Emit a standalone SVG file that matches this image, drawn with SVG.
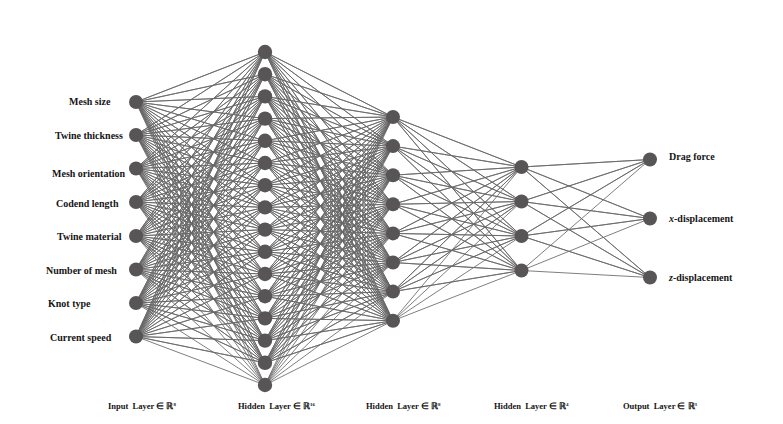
<svg xmlns="http://www.w3.org/2000/svg" width="783" height="424" viewBox="0 0 783 424">
<style>
.c{fill:none;stroke:#686868;stroke-width:0.85;stroke-linejoin:round}
.n{fill:#585556}
.t{font-family:"Liberation Serif","Times New Roman",serif;font-weight:bold;font-size:10px;fill:#151515}
.b{font-family:"Liberation Serif","Times New Roman",serif;font-weight:bold;font-size:8.5px;fill:#151515}
.s{font-size:5px}
</style>
<rect width="783" height="424" fill="#ffffff"/>
<g id="connectors" class="c">
<path d="M136,102L265,52 136,102 265,74.2 136,102 265,96.4 136,102 265,118.6 136,102 265,140.8 136,102 265,163 136,102 265,185.2 136,102 265,207.4 136,102 265,229.6 136,102 265,251.8 136,102 265,274 136,102 265,296.2 136,102 265,318.4 136,102 265,340.6 136,102 265,362.8 136,102 265,385"/>
<path d="M136,135L265,52 136,135 265,74.2 136,135 265,96.4 136,135 265,118.6 136,135 265,140.8 136,135 265,163 136,135 265,185.2 136,135 265,207.4 136,135 265,229.6 136,135 265,251.8 136,135 265,274 136,135 265,296.2 136,135 265,318.4 136,135 265,340.6 136,135 265,362.8 136,135 265,385"/>
<path d="M136,168.5L265,52 136,168.5 265,74.2 136,168.5 265,96.4 136,168.5 265,118.6 136,168.5 265,140.8 136,168.5 265,163 136,168.5 265,185.2 136,168.5 265,207.4 136,168.5 265,229.6 136,168.5 265,251.8 136,168.5 265,274 136,168.5 265,296.2 136,168.5 265,318.4 136,168.5 265,340.6 136,168.5 265,362.8 136,168.5 265,385"/>
<path d="M136,202L265,52 136,202 265,74.2 136,202 265,96.4 136,202 265,118.6 136,202 265,140.8 136,202 265,163 136,202 265,185.2 136,202 265,207.4 136,202 265,229.6 136,202 265,251.8 136,202 265,274 136,202 265,296.2 136,202 265,318.4 136,202 265,340.6 136,202 265,362.8 136,202 265,385"/>
<path d="M136,236L265,52 136,236 265,74.2 136,236 265,96.4 136,236 265,118.6 136,236 265,140.8 136,236 265,163 136,236 265,185.2 136,236 265,207.4 136,236 265,229.6 136,236 265,251.8 136,236 265,274 136,236 265,296.2 136,236 265,318.4 136,236 265,340.6 136,236 265,362.8 136,236 265,385"/>
<path d="M136,269.5L265,52 136,269.5 265,74.2 136,269.5 265,96.4 136,269.5 265,118.6 136,269.5 265,140.8 136,269.5 265,163 136,269.5 265,185.2 136,269.5 265,207.4 136,269.5 265,229.6 136,269.5 265,251.8 136,269.5 265,274 136,269.5 265,296.2 136,269.5 265,318.4 136,269.5 265,340.6 136,269.5 265,362.8 136,269.5 265,385"/>
<path d="M136,303L265,52 136,303 265,74.2 136,303 265,96.4 136,303 265,118.6 136,303 265,140.8 136,303 265,163 136,303 265,185.2 136,303 265,207.4 136,303 265,229.6 136,303 265,251.8 136,303 265,274 136,303 265,296.2 136,303 265,318.4 136,303 265,340.6 136,303 265,362.8 136,303 265,385"/>
<path d="M136,336.5L265,52 136,336.5 265,74.2 136,336.5 265,96.4 136,336.5 265,118.6 136,336.5 265,140.8 136,336.5 265,163 136,336.5 265,185.2 136,336.5 265,207.4 136,336.5 265,229.6 136,336.5 265,251.8 136,336.5 265,274 136,336.5 265,296.2 136,336.5 265,318.4 136,336.5 265,340.6 136,336.5 265,362.8 136,336.5 265,385"/>
<path d="M393,117L265,52 393,117 265,74.2 393,117 265,96.4 393,117 265,118.6 393,117 265,140.8 393,117 265,163 393,117 265,185.2 393,117 265,207.4 393,117 265,229.6 393,117 265,251.8 393,117 265,274 393,117 265,296.2 393,117 265,318.4 393,117 265,340.6 393,117 265,362.8 393,117 265,385"/>
<path d="M393,146.1L265,52 393,146.1 265,74.2 393,146.1 265,96.4 393,146.1 265,118.6 393,146.1 265,140.8 393,146.1 265,163 393,146.1 265,185.2 393,146.1 265,207.4 393,146.1 265,229.6 393,146.1 265,251.8 393,146.1 265,274 393,146.1 265,296.2 393,146.1 265,318.4 393,146.1 265,340.6 393,146.1 265,362.8 393,146.1 265,385"/>
<path d="M393,175.2L265,52 393,175.2 265,74.2 393,175.2 265,96.4 393,175.2 265,118.6 393,175.2 265,140.8 393,175.2 265,163 393,175.2 265,185.2 393,175.2 265,207.4 393,175.2 265,229.6 393,175.2 265,251.8 393,175.2 265,274 393,175.2 265,296.2 393,175.2 265,318.4 393,175.2 265,340.6 393,175.2 265,362.8 393,175.2 265,385"/>
<path d="M393,204.3L265,52 393,204.3 265,74.2 393,204.3 265,96.4 393,204.3 265,118.6 393,204.3 265,140.8 393,204.3 265,163 393,204.3 265,185.2 393,204.3 265,207.4 393,204.3 265,229.6 393,204.3 265,251.8 393,204.3 265,274 393,204.3 265,296.2 393,204.3 265,318.4 393,204.3 265,340.6 393,204.3 265,362.8 393,204.3 265,385"/>
<path d="M393,233.4L265,52 393,233.4 265,74.2 393,233.4 265,96.4 393,233.4 265,118.6 393,233.4 265,140.8 393,233.4 265,163 393,233.4 265,185.2 393,233.4 265,207.4 393,233.4 265,229.6 393,233.4 265,251.8 393,233.4 265,274 393,233.4 265,296.2 393,233.4 265,318.4 393,233.4 265,340.6 393,233.4 265,362.8 393,233.4 265,385"/>
<path d="M393,262.5L265,52 393,262.5 265,74.2 393,262.5 265,96.4 393,262.5 265,118.6 393,262.5 265,140.8 393,262.5 265,163 393,262.5 265,185.2 393,262.5 265,207.4 393,262.5 265,229.6 393,262.5 265,251.8 393,262.5 265,274 393,262.5 265,296.2 393,262.5 265,318.4 393,262.5 265,340.6 393,262.5 265,362.8 393,262.5 265,385"/>
<path d="M393,291.6L265,52 393,291.6 265,74.2 393,291.6 265,96.4 393,291.6 265,118.6 393,291.6 265,140.8 393,291.6 265,163 393,291.6 265,185.2 393,291.6 265,207.4 393,291.6 265,229.6 393,291.6 265,251.8 393,291.6 265,274 393,291.6 265,296.2 393,291.6 265,318.4 393,291.6 265,340.6 393,291.6 265,362.8 393,291.6 265,385"/>
<path d="M393,320.7L265,52 393,320.7 265,74.2 393,320.7 265,96.4 393,320.7 265,118.6 393,320.7 265,140.8 393,320.7 265,163 393,320.7 265,185.2 393,320.7 265,207.4 393,320.7 265,229.6 393,320.7 265,251.8 393,320.7 265,274 393,320.7 265,296.2 393,320.7 265,318.4 393,320.7 265,340.6 393,320.7 265,362.8 393,320.7 265,385"/>
<path d="M521.5,167L393,117 521.5,167 393,146.1 521.5,167 393,175.2 521.5,167 393,204.3 521.5,167 393,233.4 521.5,167 393,262.5 521.5,167 393,291.6 521.5,167 393,320.7"/>
<path d="M521.5,201.5L393,117 521.5,201.5 393,146.1 521.5,201.5 393,175.2 521.5,201.5 393,204.3 521.5,201.5 393,233.4 521.5,201.5 393,262.5 521.5,201.5 393,291.6 521.5,201.5 393,320.7"/>
<path d="M521.5,236L393,117 521.5,236 393,146.1 521.5,236 393,175.2 521.5,236 393,204.3 521.5,236 393,233.4 521.5,236 393,262.5 521.5,236 393,291.6 521.5,236 393,320.7"/>
<path d="M521.5,270.5L393,117 521.5,270.5 393,146.1 521.5,270.5 393,175.2 521.5,270.5 393,204.3 521.5,270.5 393,233.4 521.5,270.5 393,262.5 521.5,270.5 393,291.6 521.5,270.5 393,320.7"/>
<path d="M650,159.5L521.5,167 650,159.5 521.5,201.5 650,159.5 521.5,236 650,159.5 521.5,270.5"/>
<path d="M650,218.5L521.5,167 650,218.5 521.5,201.5 650,218.5 521.5,236 650,218.5 521.5,270.5"/>
<path d="M650,277.5L521.5,167 650,277.5 521.5,201.5 650,277.5 521.5,236 650,277.5 521.5,270.5"/>
</g>
<g id="input-layer">
<g id="in1"><circle class="n" cx="136" cy="102" r="7"/><text class="t" x="69" y="104.5">Mesh size</text></g>
<g id="in2"><circle class="n" cx="136" cy="135" r="7"/><text class="t" x="55" y="138.5">Twine thickness</text></g>
<g id="in3"><circle class="n" cx="136" cy="168.5" r="7"/><text class="t" x="52" y="176.5">Mesh orientation</text></g>
<g id="in4"><circle class="n" cx="136" cy="202" r="7"/><text class="t" x="56" y="206.5">Codend length</text></g>
<g id="in5"><circle class="n" cx="136" cy="236" r="7"/><text class="t" x="57" y="239.5">Twine material</text></g>
<g id="in6"><circle class="n" cx="136" cy="269.5" r="7"/><text class="t" x="46" y="274">Number of mesh</text></g>
<g id="in7"><circle class="n" cx="136" cy="303" r="7"/><text class="t" x="48" y="306.5">Knot type</text></g>
<g id="in8"><circle class="n" cx="136" cy="336.5" r="7"/><text class="t" x="50" y="341">Current speed</text></g>
</g>
<g id="hidden-layer-1">
<circle class="n" cx="265" cy="52" r="7.2"/>
<circle class="n" cx="265" cy="74.2" r="7.2"/>
<circle class="n" cx="265" cy="96.4" r="7.2"/>
<circle class="n" cx="265" cy="118.6" r="7.2"/>
<circle class="n" cx="265" cy="140.8" r="7.2"/>
<circle class="n" cx="265" cy="163" r="7.2"/>
<circle class="n" cx="265" cy="185.2" r="7.2"/>
<circle class="n" cx="265" cy="207.4" r="7.2"/>
<circle class="n" cx="265" cy="229.6" r="7.2"/>
<circle class="n" cx="265" cy="251.8" r="7.2"/>
<circle class="n" cx="265" cy="274" r="7.2"/>
<circle class="n" cx="265" cy="296.2" r="7.2"/>
<circle class="n" cx="265" cy="318.4" r="7.2"/>
<circle class="n" cx="265" cy="340.6" r="7.2"/>
<circle class="n" cx="265" cy="362.8" r="7.2"/>
<circle class="n" cx="265" cy="385" r="7.2"/>
</g>
<g id="hidden-layer-2">
<circle class="n" cx="393" cy="117" r="7"/>
<circle class="n" cx="393" cy="146.1" r="7"/>
<circle class="n" cx="393" cy="175.2" r="7"/>
<circle class="n" cx="393" cy="204.3" r="7"/>
<circle class="n" cx="393" cy="233.4" r="7"/>
<circle class="n" cx="393" cy="262.5" r="7"/>
<circle class="n" cx="393" cy="291.6" r="7"/>
<circle class="n" cx="393" cy="320.7" r="7"/>
</g>
<g id="hidden-layer-3">
<circle class="n" cx="521.5" cy="167" r="7"/>
<circle class="n" cx="521.5" cy="201.5" r="7"/>
<circle class="n" cx="521.5" cy="236" r="7"/>
<circle class="n" cx="521.5" cy="270.5" r="7"/>
</g>
<g id="output-layer">
<g id="out1"><circle class="n" cx="650" cy="159.5" r="7"/><text class="t" x="669" y="160">Drag force</text></g>
<g id="out2"><circle class="n" cx="650" cy="218.5" r="7"/><text class="t" x="669" y="222"><tspan font-style="italic">x</tspan>-displacement</text></g>
<g id="out3"><circle class="n" cx="650" cy="277.5" r="7"/><text class="t" x="669" y="281"><tspan font-style="italic">z</tspan>-displacement</text></g>
</g>
<g id="layer-labels">
<text class="b" x="108" y="409" xml:space="preserve">Input  Layer ∈ ℝ<tspan class="s" dy="-3.5">8</tspan></text>
<text class="b" x="238" y="409" xml:space="preserve">Hidden  Layer ∈ ℝ<tspan class="s" dy="-3.5">16</tspan></text>
<text class="b" x="366" y="409" xml:space="preserve">Hidden  Layer ∈ ℝ<tspan class="s" dy="-3.5">8</tspan></text>
<text class="b" x="494" y="409" xml:space="preserve">Hidden  Layer ∈ ℝ<tspan class="s" dy="-3.5">4</tspan></text>
<text class="b" x="623" y="409" xml:space="preserve">Output  Layer ∈ ℝ<tspan class="s" dy="-3.5">3</tspan></text>
</g>
</svg>
